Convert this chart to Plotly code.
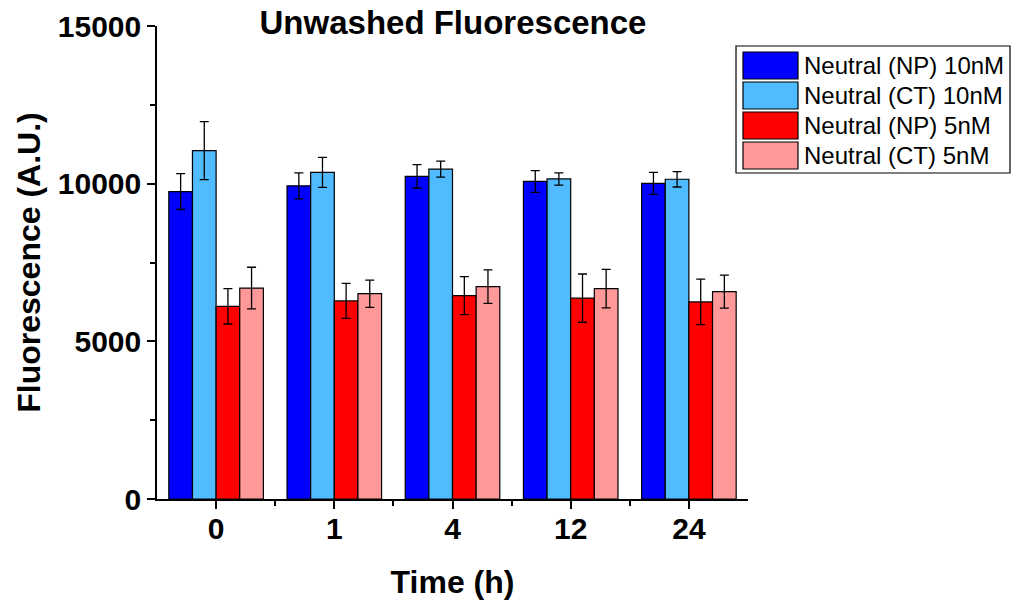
import plotly.graph_objects as go

categories = ["0", "1", "4", "12", "24"]
series_names = ["Neutral (NP) 10nM", "Neutral (CT) 10nM", "Neutral (NP) 5nM", "Neutral (CT) 5nM"]
np10 = [9750, 9930, 10230, 10070, 10010]
np10_err = [570, 410, 375, 345, 350]
ct10 = [11050, 10360, 10460, 10150, 10140]
ct10_err = [920, 475, 255, 195, 245]
np5 = [6110, 6280, 6450, 6370, 6250]
np5_err = [560, 555, 605, 765, 720]
ct5 = [6690, 6510, 6735, 6670, 6575]
ct5_err = [660, 430, 530, 610, 525]
colors = ["#0000FF", "#50BBFF", "#FF0000", "#FF9999"]

values = [np10, ct10, np5, ct5]
errors = [np10_err, ct10_err, np5_err, ct5_err]
xpos = list(range(len(categories)))

fig = go.Figure()
for name, v, e, c in zip(series_names, values, errors, colors):
    fig.add_trace(go.Bar(
        x=xpos, y=v, name=name,
        marker=dict(color=c, line=dict(color="black", width=1.2)),
        error_y=dict(type="data", array=e, color="black", thickness=1.3, width=4.5),
        showlegend=False,
    ))

FONT = "Liberation Sans, Arial, sans-serif"
fig.update_layout(
    width=1018, height=609,
    margin=dict(l=157, r=270, t=26, b=110),
    paper_bgcolor="white", plot_bgcolor="white",
    barmode="group", bargap=0.2, bargroupgap=0,
    font=dict(family=FONT, color="black"),
    title=dict(text="<b>Unwashed Fluorescence</b>", x=453 / 1018, xanchor="center",
               y=1 - 22 / 609, yanchor="middle", font=dict(size=33, family=FONT)),
    xaxis=dict(range=[-0.5, 4.5], tickvals=xpos, ticktext=["<b>%s</b>" % c for c in categories],
               showline=True, linecolor="black", linewidth=1.5, ticks="outside", ticklen=8,
               tickwidth=1.5, tickcolor="black", showgrid=False, zeroline=False,
               tickfont=dict(size=30, family=FONT), ticklabelstandoff=-6, automargin=False,
               minor=dict(tickvals=[0.5, 1.5, 2.5, 3.5], ticks="outside", ticklen=5, tickwidth=1.5, tickcolor="black"),
               title=dict(text="<b>Time (h)</b>", font=dict(size=32, family=FONT), standoff=27)),
    yaxis=dict(range=[0, 15000], tickvals=[0, 5000, 10000, 15000],
               ticktext=["<b>0</b>", "<b>5000</b>", "<b>10000</b>", "<b>15000</b>"],
               showline=True, linecolor="black", linewidth=1.5, ticks="outside", ticklen=8,
               tickwidth=1.5, tickcolor="black", showgrid=False, zeroline=False,
               tickfont=dict(size=30, family=FONT), automargin=False,
               minor=dict(tickvals=[2500, 7500, 12500], ticks="outside", ticklen=5, tickwidth=1.5, tickcolor="black"),
               title=dict(text="<b>Fluorescence (A.U.)</b>", font=dict(size=32, family=FONT), standoff=8)),
)

# custom legend (paper coordinates)
pw, ph = 1018 - 157 - 270, 609 - 26 - 110
def px_x(x):
    return (x - 157) / pw
def px_y(y):
    return (609 - 110 - y) / ph

fig.add_shape(type="rect", xref="paper", yref="paper",
              x0=px_x(736), x1=px_x(1010), y0=px_y(173), y1=px_y(46),
              line=dict(color="black", width=1.2), fillcolor="white")
row_top = [52, 82, 112, 142]
for name, c, yt in zip(series_names, colors, row_top):
    fig.add_shape(type="rect", xref="paper", yref="paper",
                  x0=px_x(743), x1=px_x(798), y0=px_y(yt + 27), y1=px_y(yt),
                  line=dict(color="black", width=1.2), fillcolor=c)
    fig.add_annotation(xref="paper", yref="paper", x=px_x(802), y=px_y(yt + 13.5),
                       text=name, showarrow=False, xanchor="left", yanchor="middle",
                       font=dict(size=24, family=FONT, color="black"))

fig.write_html("out.html")
